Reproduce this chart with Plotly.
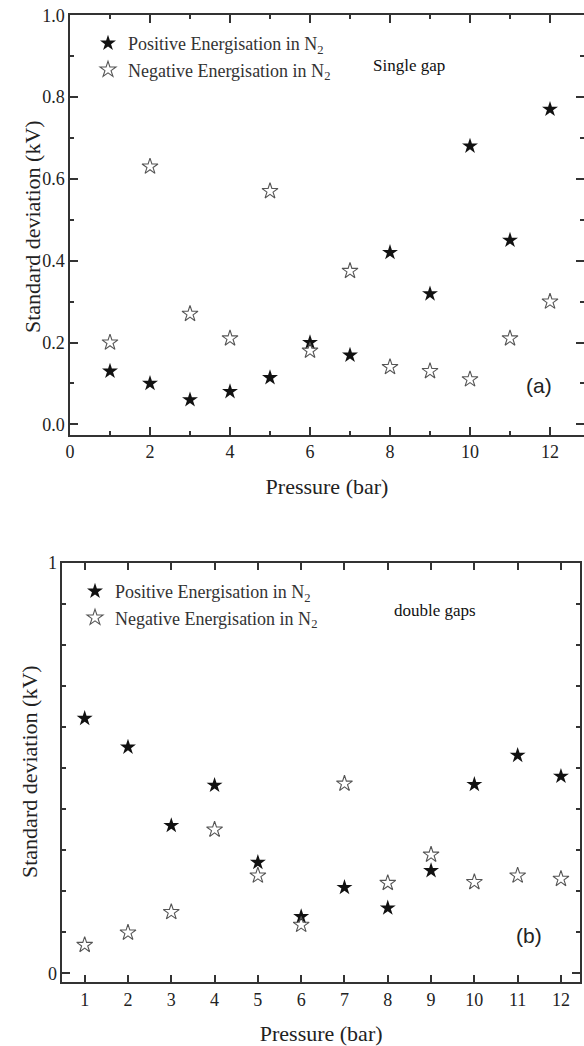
import plotly.graph_objects as go

# ---------------- data ----------------
pressure = [1, 2, 3, 4, 5, 6, 7, 8, 9, 10, 11, 12]

single_pos = [0.13, 0.10, 0.06, 0.08, 0.114, 0.20, 0.169, 0.42, 0.319, 0.68, 0.45, 0.77]
single_neg = [0.20, 0.63, 0.27, 0.21, 0.57, 0.18, 0.375, 0.14, 0.13, 0.11, 0.21, 0.30]

double_pos = [0.621, 0.551, 0.360, 0.458, 0.270, 0.138, 0.209, 0.159, 0.250, 0.460, 0.531, 0.480]
double_neg = [0.069, 0.099, 0.149, 0.350, 0.238, 0.118, 0.462, 0.220, 0.289, 0.222, 0.238, 0.230]

name_pos = "Positive Energisation in N<sub>2</sub>"
name_neg = "Negative Energisation in N<sub>2</sub>"

W, H = 584, 1046
SERIF = "Liberation Serif, Times New Roman, serif"
AX = "#333333"

fig = go.Figure()

fig.add_trace(go.Scatter(x=pressure, y=single_pos, mode="markers", name=name_pos,
                         marker=dict(symbol="star", size=12, color="#111111",
                                     line=dict(width=0)),
                         xaxis="x", yaxis="y", legend="legend"))
fig.add_trace(go.Scatter(x=pressure, y=single_neg, mode="markers", name=name_neg,
                         marker=dict(symbol="star-open", size=12, color="#555555",
                                     line=dict(width=1.1)),
                         xaxis="x", yaxis="y", legend="legend"))
fig.add_trace(go.Scatter(x=pressure, y=double_pos, mode="markers", name=name_pos,
                         marker=dict(symbol="star", size=12, color="#111111",
                                     line=dict(width=0)),
                         xaxis="x2", yaxis="y2", legend="legend2"))
fig.add_trace(go.Scatter(x=pressure, y=double_neg, mode="markers", name=name_neg,
                         marker=dict(symbol="star-open", size=12, color="#555555",
                                     line=dict(width=1.1)),
                         xaxis="x2", yaxis="y2", legend="legend2"))

def px_x(v):
    return v / W

def px_y(v):
    return 1 - v / H

common = dict(showline=True, linecolor=AX, linewidth=1.5, mirror="ticks",
              ticks="inside", tickcolor=AX, tickwidth=1.5, ticklen=8,
              showgrid=False, zeroline=False,
              tickfont=dict(family=SERIF, size=18, color="#222222"),
              automargin=False)
minor_style = dict(ticks="inside", ticklen=4, tickcolor=AX, tickwidth=1.5)
title_font = dict(family=SERIF, size=22, color="#222222")

fig.update_layout(
    xaxis=dict(domain=[px_x(70), 1.0], range=[0, 12.85], anchor="y",
               tick0=0, dtick=2,
               minor=dict(dtick=1, tick0=0, **minor_style),
               title=dict(text="Pressure (bar)", font=title_font, standoff=17),
               **common),
    yaxis=dict(domain=[px_y(435), px_y(15)], range=[-0.026, 1.0005], anchor="x",
               tick0=0, dtick=0.2, tickformat=".1f",
               minor=dict(dtick=0.1, tick0=0, **minor_style),
               **common),
    xaxis2=dict(domain=[px_x(62.3), px_x(580)], range=[0.483, 12.44], anchor="y2",
                tick0=1, dtick=1,
                title=dict(text="Pressure (bar)", font=title_font, standoff=17),
                **common),
    yaxis2=dict(domain=[px_y(982.3), px_y(562.7)], range=[-0.022, 1.0005], anchor="x2",
                tickvals=[0, 1], ticktext=["0", "1"],
                minor=dict(dtick=0.1, tick0=0, **minor_style),
                **common),
)

legend_style = dict(bgcolor="rgba(0,0,0,0)", borderwidth=0,
                    font=dict(family=SERIF, size=18, color="#333333"),
                    xanchor="left", yanchor="top", tracegroupgap=0, itemwidth=30)

fig.update_layout(
    width=W, height=H,
    margin=dict(l=0, r=0, t=0, b=0),
    paper_bgcolor="white", plot_bgcolor="white",
    showlegend=True,
    legend=dict(x=px_x(88), y=px_y(25), **legend_style),
    legend2=dict(x=px_x(75), y=px_y(573), **legend_style),
    annotations=[
        dict(text="Standard deviation (kV)", textangle=-90, x=px_x(33), y=px_y(227),
             xref="paper", yref="paper", xanchor="center", yanchor="middle",
             showarrow=False, font=title_font),
        dict(text="Standard deviation (kV)", textangle=-90, x=px_x(29), y=px_y(772),
             xref="paper", yref="paper", xanchor="center", yanchor="middle",
             showarrow=False, font=title_font),
        dict(text="Single gap", x=px_x(409), y=px_y(65), xref="paper", yref="paper",
             xanchor="center", yanchor="middle",
             showarrow=False, font=dict(family=SERIF, size=17, color="#111111")),
        dict(text="double gaps", x=px_x(435), y=px_y(610), xref="paper", yref="paper",
             xanchor="center", yanchor="middle",
             showarrow=False, font=dict(family=SERIF, size=17, color="#111111")),
        dict(text="(a)", x=px_x(539), y=px_y(385), xref="paper", yref="paper",
             xanchor="center", yanchor="middle",
             showarrow=False, font=dict(family="Liberation Sans, Arial, sans-serif", size=21, color="#222222")),
        dict(text="(b)", x=px_x(529), y=px_y(935), xref="paper", yref="paper",
             xanchor="center", yanchor="middle",
             showarrow=False, font=dict(family="Liberation Sans, Arial, sans-serif", size=21, color="#222222")),
    ],
)

fig.write_html("out.html")
